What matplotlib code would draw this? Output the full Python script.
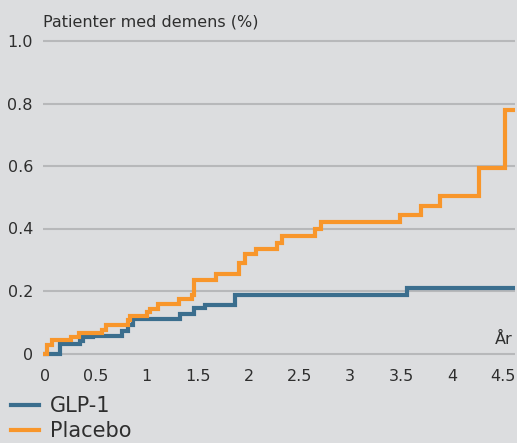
import matplotlib
matplotlib.use("Agg")
import matplotlib.pyplot as plt
from matplotlib.lines import Line2D

# Data (time in years, cumulative proportion)
glp1_t = [0.0, 0.147, 0.34, 0.37, 0.475, 0.754, 0.82, 0.86, 1.33, 1.46, 1.57, 1.87, 3.56, 4.60]
glp1_v = [0.0, 0.030, 0.041, 0.052, 0.057, 0.073, 0.092, 0.110, 0.128, 0.145, 0.156, 0.187, 0.211, 0.211]

placebo_t = [0.0, 0.02, 0.065, 0.26, 0.33, 0.56, 0.60, 0.82, 0.84, 1.00, 1.03, 1.11, 1.32, 1.44, 1.46,
             1.68, 1.91, 1.97, 2.07, 2.28, 2.33, 2.65, 2.71, 3.49, 3.70, 3.88, 4.27, 4.52, 4.60]
placebo_v = [0.0, 0.026, 0.042, 0.053, 0.066, 0.076, 0.092, 0.108, 0.119, 0.133, 0.143, 0.160, 0.173, 0.186, 0.234,
             0.256, 0.289, 0.318, 0.336, 0.355, 0.377, 0.398, 0.422, 0.442, 0.472, 0.505, 0.595, 0.779, 0.779]

x_ticks = [0, 0.5, 1, 1.5, 2, 2.5, 3, 3.5, 4, 4.5]
x_ticklabels = ["0", "0.5", "1", "1.5", "2", "2.5", "3", "3.5", "4", "4.5"]
y_ticks = [0, 0.2, 0.4, 0.6, 0.8, 1.0]
y_ticklabels = ["0", "0.2", "0.4", "0.6", "0.8", "1.0"]
series_names = ["GLP-1", "Placebo"]

BG = "#DCDDDF"
BLUE = "#3B6E8E"
ORANGE = "#F8962B"
GRID = "#B7B8BA"
TXT = "#2E2E2E"

plt.rcParams['font.family'] = ['DejaVu Sans']

W, H = 517, 443
fig = plt.figure(figsize=(W / 100, H / 100), dpi=100, facecolor=BG)

# axes placement in pixels
px_left, px_right = 42.7, 515.0
xmin, xmax = -0.023, 4.62
y0_px, unit_px = 353.5, 312.5
ymin, ymax = -0.02, 1.02
bottom_px = (H - y0_px) + ymin * unit_px
height_px = (ymax - ymin) * unit_px
ax = fig.add_axes([px_left / W, bottom_px / H, (px_right - px_left) / W, height_px / H])
ax.set_facecolor(BG)
ax.set_xlim(xmin, xmax)
ax.set_ylim(ymin, ymax)

for yv in y_ticks:
    ax.axhline(yv, color=GRID, lw=1.5, zorder=1)

ax.step(glp1_t, glp1_v, where='post', color=BLUE, lw=3.0, zorder=3, solid_joinstyle='miter')
ax.step(placebo_t, placebo_v, where='post', color=ORANGE, lw=3.0, zorder=4, solid_joinstyle='miter')

for s in ax.spines.values():
    s.set_visible(False)
ax.set_xticks(x_ticks)
ax.set_xticklabels(x_ticklabels)
ax.set_yticks(y_ticks)
ax.set_yticklabels(y_ticklabels)
ax.tick_params(axis='both', length=0, colors=TXT, labelsize=11.5)
ax.tick_params(axis='x', pad=6.5)
ax.tick_params(axis='y', pad=7)

ax.text(4.6, 0.045, "År", ha='right', va='center', fontsize=11.5, color=TXT)
fig.text(43 / W, 1 - 22 / H, "Patienter med demens (%)", ha='left', va='center', fontsize=11.5, color=TXT)

handles = [Line2D([], [], color=BLUE, lw=3.0), Line2D([], [], color=ORANGE, lw=3.0)]
fig.legend(handles, series_names, loc='upper left', bbox_to_anchor=(7 / W, 1 - 392 / H),
           frameon=False, fontsize=15, handlelength=1.35, handletextpad=0.5,
           labelspacing=0.25, borderpad=0.2, borderaxespad=0, labelcolor=TXT)

fig.savefig("out.png", dpi=100, facecolor=BG)
